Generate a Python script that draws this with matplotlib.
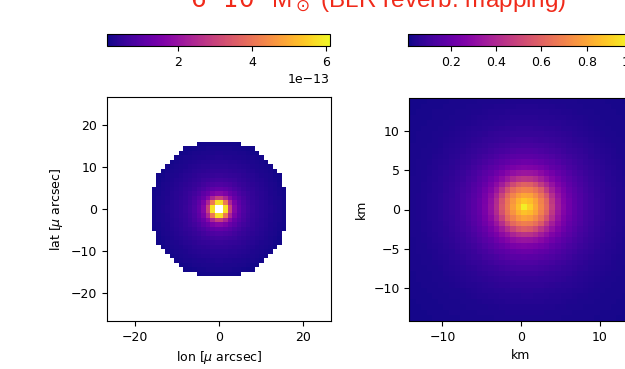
import numpy as np
import matplotlib
matplotlib.use("Agg")
import matplotlib.pyplot as plt

# radial brightness profile of the disc image (units of 1e-13)
disc_r = [1.0, 1.7, 2.3, 2.8, 3.5, 4.5, 6.0, 8.0, 10.0, 13.0, 16.5]
disc_val = [6.1, 5.8, 4.0, 2.8, 1.9, 1.3, 0.85, 0.55, 0.4, 0.25, 0.12]
disc_rin = 1.0
disc_rout = 16.5
disc_half = 26.7
disc_n = 50

# radial profile of the BLR map (normalised)
blr_r = [0, 0.7, 1.4, 2.1, 2.8, 3.5, 4.2, 5.0, 6.0, 7.5, 9.0, 11.0, 14.0, 21.0]
blr_val = [1.0, 0.88, 0.8, 0.7, 0.6, 0.45, 0.34, 0.26, 0.19, 0.13, 0.09, 0.06, 0.035, 0.02]
blr_center = (0.5, 0.4)
blr_half = 14.2
blr_n = 40

title = r"$6\cdot10^8$ M$_\odot$ (BLR reverb. mapping)"

plt.rcParams["font.size"] = 9

W, H = 625, 369
fig = plt.figure(figsize=(W / 100, H / 100), dpi=100)


def box(x0, y0, x1, y1):
    return [x0 / W, 1 - y1 / H, (x1 - x0) / W, (y1 - y0) / H]


# left: accretion disc image
c = (np.arange(disc_n) + 0.5) / disc_n * 2 * disc_half - disc_half
X, Y = np.meshgrid(c, c)
R = np.hypot(X, Y)
img1 = np.interp(R, disc_r, disc_val) * 1e-13
img1[(R > disc_rout) | (R < disc_rin)] = np.nan

ax1 = fig.add_axes(box(107, 97, 331, 321))
im1 = ax1.imshow(img1, cmap="plasma", origin="lower", interpolation="nearest",
                 extent=[-disc_half, disc_half, -disc_half, disc_half],
                 vmin=0.07e-13, vmax=6.12e-13)
ax1.set_xticks([-20, 0, 20])
ax1.set_yticks([-20, -10, 0, 10, 20])
ax1.set_xlabel(r"lon [$\mu$ arcsec]")
ax1.set_ylabel(r"lat [$\mu$ arcsec]")

cax1 = fig.add_axes(box(107, 34, 330, 46))
fig.colorbar(im1, cax=cax1, orientation="horizontal")

# right: BLR map
c2 = (np.arange(blr_n) + 0.5) / blr_n * 2 * blr_half - blr_half
X2, Y2 = np.meshgrid(c2, c2)
R2 = np.hypot(X2 - blr_center[0], Y2 - blr_center[1])
img2 = np.interp(R2, blr_r, blr_val)

ax2 = fig.add_axes(box(409, 98, 633, 321))
im2 = ax2.imshow(img2, cmap="plasma", origin="lower", interpolation="nearest",
                 extent=[-blr_half, blr_half, -blr_half, blr_half],
                 vmin=0.01, vmax=1.0)
ax2.set_xticks([-10, 0, 10])
ax2.set_yticks([-10, -5, 0, 5, 10])
ax2.set_xlabel("km")
ax2.set_ylabel("km")

cax2 = fig.add_axes(box(408, 34, 632, 46))
fig.colorbar(im2, cax=cax2, orientation="horizontal")

# title in a Helvetica-like face, math parts in the same font
with plt.rc_context({"mathtext.fontset": "custom",
                     "mathtext.rm": "Liberation Sans",
                     "mathtext.it": "Liberation Sans:italic"}):
    fig.text(378 / W, 1 - 9 / H, title, color="#f02a1a", fontsize=17.5,
             family=["Liberation Sans", "DejaVu Sans"],
             ha="center", va="baseline")

fig.savefig("out.png", dpi=100)
